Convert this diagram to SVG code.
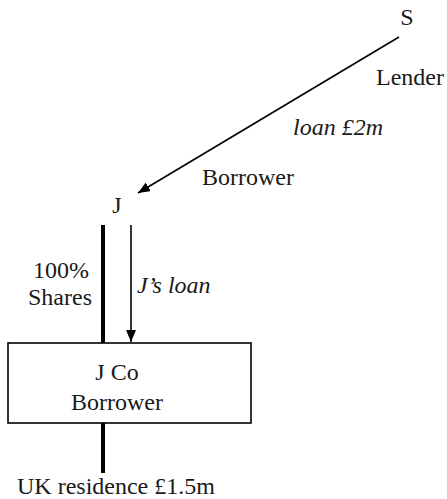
<svg xmlns="http://www.w3.org/2000/svg" width="447" height="499" viewBox="0 0 447 499">
<style>
text{font-family:"Liberation Serif","Times New Roman",serif;font-size:24px;fill:#1a1a1a}
.i{font-style:italic}
.thin{stroke:#000;stroke-width:1.6;fill:none}
.thick{stroke:#000;stroke-width:4;fill:none}
</style>
<defs>
<marker id="ah" viewBox="0 0 12 10" refX="12" refY="5" markerWidth="12" markerHeight="10" markerUnits="userSpaceOnUse" orient="auto">
<path d="M0,0 L12,5 L0,10 z" fill="#000"/>
</marker>
</defs>
<g id="connectors">
<line class="thin" x1="399" y1="37" x2="138" y2="193" marker-end="url(#ah)"/>
<line class="thin" x1="131" y1="225" x2="131" y2="342" marker-end="url(#ah)"/>
<line class="thick" x1="103" y1="225" x2="103" y2="343"/>
<line class="thick" x1="103" y1="423" x2="103" y2="473"/>
<text class="i" x="293" y="135">loan £2m</text>
<text x="202" y="185">Borrower</text>
<text x="376" y="85">Lender</text>
<text class="i" x="137" y="293">J’s loan</text>
<text x="61" y="278" text-anchor="middle">100%</text>
<text x="60" y="305" text-anchor="middle">Shares</text>
</g>
<g id="S"><text x="407" y="25" text-anchor="middle">S</text></g>
<g id="J"><text x="117" y="213" text-anchor="middle">J</text></g>
<g id="JCo">
<rect x="8" y="343" width="243" height="80" fill="#fff" stroke="#000" stroke-width="1.6"/>
<text x="117" y="380" text-anchor="middle">J Co</text>
<text x="117" y="410" text-anchor="middle">Borrower</text>
</g>
<g id="UK"><text x="17" y="494">UK residence £1.5m</text></g>
</svg>
